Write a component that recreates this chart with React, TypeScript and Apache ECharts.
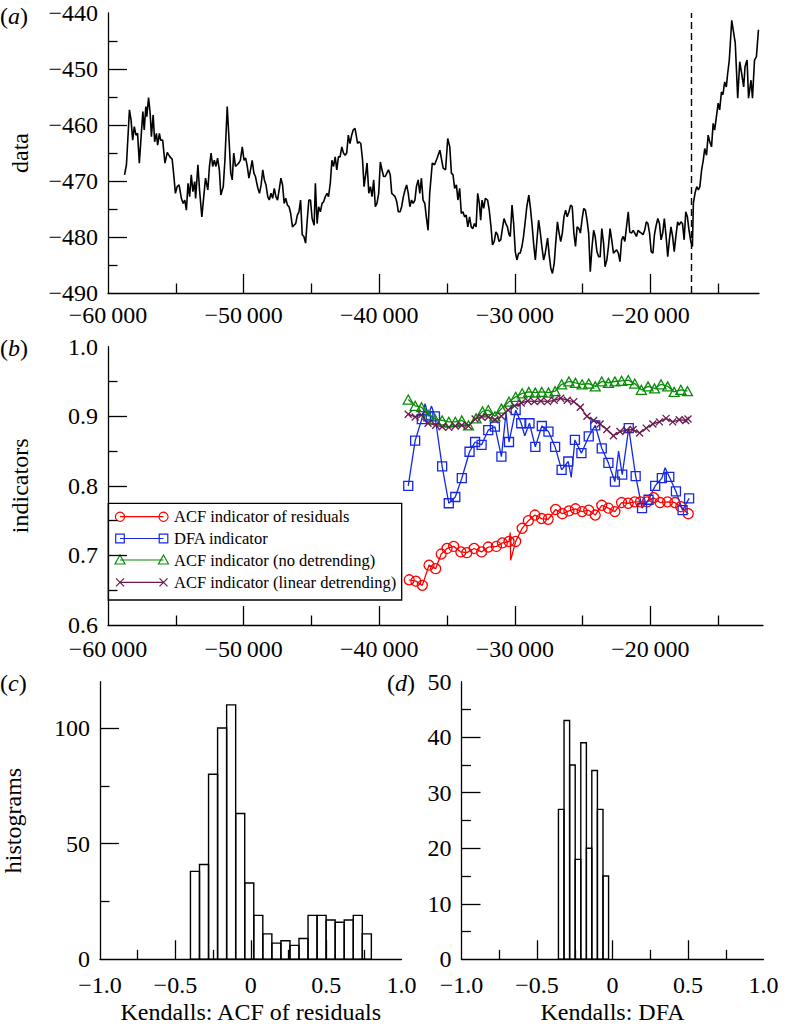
import React, { useEffect, useRef } from "react";
import * as echarts from "echarts";

const FONT = "'Liberation Serif', 'Times New Roman', Times, serif";

// ---------- Panel (a): data ----------
const dataSeries: [number, number][] = [
  [-58780,-468.9],[-58640,-467.1],[-58420,-457.3],[-58300,-459.1],[-58180,-462.7],[-58060,-460.3],[-57940,-461.8],[-57820,-461.5],[-57690,-466.8],[-57550,-461.8],
  [-57430,-457.6],[-57330,-460.9],[-57210,-456.7],[-57140,-458.5],[-57010,-455.1],[-56890,-457.9],[-56800,-462.1],[-56670,-458.2],[-56560,-463.0],[-56430,-461.5],
  [-56340,-463.6],[-56210,-461.5],[-56120,-462.7],[-55970,-462.7],[-55800,-466.8],[-55630,-464.9],[-55430,-465.7],[-55270,-466.1],[-55140,-469.2],[-55030,-472.2],
  [-54900,-471.0],[-54760,-470.7],[-54590,-473.1],[-54460,-474.0],[-54340,-473.4],[-54220,-475.2],[-54100,-470.4],[-53980,-472.8],[-53860,-468.9],[-53740,-471.9],
  [-53610,-470.1],[-53540,-473.1],[-53370,-467.1],[-53250,-471.6],[-53080,-476.4],[-52940,-472.8],[-52810,-469.5],[-52640,-471.6],[-52520,-467.4],[-52400,-465.0],
  [-52280,-467.4],[-52160,-466.3],[-52040,-467.4],[-51920,-465.9],[-51790,-468.0],[-51680,-472.5],[-51500,-471.0],[-51380,-466.3],[-51210,-456.7],[-51060,-463.3],
  [-50950,-468.6],[-50840,-469.8],[-50730,-465.0],[-50600,-467.4],[-50480,-467.1],[-50360,-466.8],[-50240,-466.3],[-50100,-463.9],[-49970,-466.3],[-49850,-465.9],
  [-49730,-467.4],[-49610,-469.5],[-49490,-468.0],[-49370,-466.3],[-49240,-468.6],[-49130,-469.2],[-48950,-471.3],[-48830,-472.2],[-48710,-470.7],[-48590,-468.0],
  [-48470,-469.8],[-48350,-470.7],[-48220,-472.8],[-48110,-473.4],[-47980,-472.2],[-47860,-473.1],[-47740,-471.3],[-47620,-472.8],[-47500,-473.4],[-47380,-471.6],
  [-47250,-469.5],[-47130,-470.7],[-47010,-474.0],[-46890,-473.1],[-46770,-474.3],[-46650,-474.6],[-46530,-475.8],[-46400,-478.2],[-46290,-477.9],[-46160,-477.6],
  [-46040,-476.1],[-45920,-475.5],[-45800,-473.4],[-45680,-479.6],[-45560,-479.9],[-45430,-481.1],[-45310,-477.0],[-45190,-473.4],[-45070,-473.4],[-44950,-476.7],
  [-44800,-477.9],[-44710,-470.4],[-44580,-477.6],[-44470,-474.6],[-44340,-475.5],[-44220,-474.0],[-44100,-473.7],[-43980,-472.8],[-43850,-472.2],[-43740,-472.8],
  [-43610,-470.4],[-43490,-466.3],[-43370,-467.4],[-43250,-465.7],[-43130,-468.0],[-43010,-465.7],[-42890,-465.7],[-42760,-463.9],[-42640,-465.0],[-42520,-465.4],
  [-42400,-465.0],[-42280,-461.8],[-42160,-463.3],[-42030,-461.8],[-41920,-460.9],[-41790,-460.6],[-41720,-461.5],[-41600,-463.3],[-41480,-463.0],[-41360,-463.3],
  [-41230,-466.3],[-41120,-471.0],[-40990,-468.6],[-40900,-466.8],[-40770,-472.2],[-40650,-471.0],[-40530,-472.8],[-40410,-469.8],[-40290,-474.6],[-40170,-474.0],
  [-40040,-472.2],[-39920,-466.6],[-39800,-468.0],[-39680,-469.2],[-39560,-469.2],[-39440,-468.6],[-39320,-468.0],[-39190,-468.9],[-39080,-472.2],[-38950,-472.5],
  [-38830,-472.8],[-38710,-473.7],[-38590,-475.5],[-38460,-475.5],[-38350,-474.6],[-38220,-472.8],[-38100,-471.6],[-37980,-470.7],[-37860,-472.2],[-37740,-474.6],
  [-37620,-473.4],[-37500,-474.0],[-37370,-473.4],[-37260,-471.0],[-37130,-469.8],[-37010,-472.2],[-36890,-469.5],[-36770,-473.4],[-36640,-474.0],[-36530,-476.4],
  [-36400,-478.8],[-36280,-472.2],[-36090,-466.8],[-35920,-467.1],[-35730,-465.9],[-35530,-464.5],[-35290,-467.7],[-35110,-468.0],[-34950,-462.4],[-34800,-463.9],
  [-34680,-468.6],[-34560,-468.9],[-34440,-471.3],[-34310,-470.7],[-34200,-473.4],[-34070,-471.3],[-33950,-475.8],[-33830,-475.5],[-33710,-476.4],[-33590,-476.1],
  [-33470,-478.2],[-33340,-476.4],[-33220,-478.2],[-33100,-478.5],[-32980,-477.6],[-32860,-478.2],[-32740,-472.2],[-32620,-474.0],[-32520,-477.0],[-32420,-473.4],
  [-32300,-474.9],[-32180,-473.1],[-32010,-473.4],[-31890,-475.2],[-31760,-478.2],[-31650,-481.4],[-31520,-480.8],[-31400,-479.1],[-31280,-479.6],[-31160,-480.8],
  [-31040,-480.5],[-30920,-478.5],[-30800,-476.7],[-30670,-477.6],[-30550,-478.2],[-30430,-479.6],[-30340,-479.9],[-30210,-474.3],[-30090,-477.6],[-29970,-482.6],
  [-29850,-484.1],[-29720,-482.9],[-29610,-482.9],[-29480,-481.7],[-29360,-479.9],[-29240,-477.3],[-29120,-474.6],[-28970,-472.5],[-28850,-474.9],[-28730,-477.9],
  [-28610,-481.4],[-28490,-484.1],[-28370,-480.5],[-28250,-477.0],[-28120,-479.3],[-28010,-481.7],[-27880,-484.1],[-27760,-482.9],[-27590,-480.2],[-27470,-483.2],
  [-27350,-485.6],[-27230,-486.5],[-27100,-484.7],[-26990,-481.1],[-26860,-477.3],[-26740,-479.3],[-26620,-480.8],[-26500,-479.3],[-26380,-476.4],[-26260,-475.2],
  [-26140,-476.4],[-26010,-475.5],[-25890,-474.3],[-25770,-474.6],[-25650,-479.3],[-25530,-481.7],[-25410,-478.2],[-25280,-478.5],[-25170,-479.3],[-25040,-476.7],
  [-24920,-474.9],[-24800,-475.2],[-24680,-477.0],[-24560,-479.3],[-24440,-486.2],[-24310,-481.7],[-24190,-478.8],[-24080,-479.9],[-23950,-482.6],[-23830,-483.5],
  [-23710,-483.5],[-23590,-478.5],[-23460,-481.1],[-23350,-485.3],[-23220,-484.1],[-23100,-481.7],[-22980,-478.5],[-22860,-480.5],[-22730,-482.9],[-22620,-482.6],
  [-22500,-482.3],[-22370,-482.9],[-22250,-484.4],[-22130,-480.5],[-22010,-479.9],[-21890,-480.8],[-21770,-478.2],[-21640,-475.5],[-21530,-479.1],[-21400,-479.3],
  [-21280,-478.8],[-21160,-479.3],[-21040,-479.9],[-20910,-478.8],[-20800,-479.1],[-20670,-479.3],[-20550,-479.6],[-20430,-478.8],[-20310,-477.3],[-20190,-477.6],
  [-20070,-479.3],[-19950,-482.6],[-19820,-482.9],[-19710,-479.6],[-19580,-477.9],[-19460,-476.7],[-19340,-477.6],[-19220,-480.5],[-19100,-479.3],[-18980,-476.7],
  [-18850,-479.9],[-18730,-483.5],[-18610,-480.5],[-18490,-478.2],[-18370,-479.9],[-18250,-482.6],[-18130,-479.9],[-18000,-477.3],[-17890,-477.9],[-17760,-477.3],
  [-17640,-477.6],[-17520,-480.5],[-17400,-475.5],[-17280,-476.4],[-17160,-478.8],[-17030,-480.8],[-16910,-481.7],[-16840,-474.0],[-16720,-472.2],[-16590,-471.0],
  [-16470,-471.6],[-16360,-471.0],[-16230,-468.0],[-16110,-466.3],[-16000,-464.2],[-15870,-465.4],[-15750,-461.8],[-15630,-463.0],[-15500,-463.9],[-15380,-459.7],
  [-15270,-460.9],[-15140,-458.5],[-15010,-456.1],[-14900,-457.3],[-14770,-454.1],[-14660,-454.6],[-14530,-452.3],[-14410,-453.2],[-14310,-450.8],[-14190,-448.4],
  [-14010,-441.3],[-13750,-445.4],[-13570,-455.2],[-13420,-448.7],[-13280,-450.8],[-13130,-453.2],[-13030,-449.6],[-12880,-448.4],[-12770,-455.2],[-12590,-452.0],
  [-12480,-455.2],[-12330,-448.4],[-12190,-447.8],[-12040,-443.0],
];
const regimeShiftYear = -17000;

// ---------- Panel (b): indicators ----------
const acfResiduals: [number, number][] = [
  [-37790,0.665],[-37300,0.663],[-36820,0.657],[-36330,0.686],[-35840,0.681],[-35430,0.702],[-35000,0.710],[-34510,0.713],[-33980,0.705],[-33540,0.704],
  [-33000,0.710],[-32450,0.705],[-31960,0.712],[-31360,0.713],[-30920,0.718],[-30430,0.720],[-30340,0.733],[-30310,0.693],[-29940,0.720],[-29460,0.739],
  [-29000,0.750],[-28520,0.758],[-28030,0.753],[-27540,0.752],[-26990,0.766],[-26500,0.760],[-26010,0.764],[-25530,0.767],[-25040,0.763],[-24550,0.765],
  [-24070,0.758],[-23590,0.772],[-23100,0.768],[-22620,0.763],[-22130,0.776],[-21640,0.775],[-21160,0.777],[-20740,0.777],[-20240,0.777],[-19760,0.783],
  [-19290,0.776],[-18740,0.777],[-18200,0.776],[-17760,0.770],[-17210,0.760],
];
const acfResidualsLineOnly = [-30340, -30310];

const dfaIndicator: [number, number][] = [
  [-37860,0.800],[-37350,0.865],[-36860,0.896],[-36620,0.918],[-36380,0.900],[-36150,0.915],[-35890,0.900],[-35360,0.828],[-34870,0.775],[-34390,0.784],
  [-33910,0.811],[-33340,0.849],[-32930,0.863],[-32450,0.859],[-31960,0.880],[-31470,0.885],[-30990,0.842],[-30650,0.905],[-30430,0.863],[-29940,0.909],
  [-29530,0.890],[-29270,0.872],[-28920,0.890],[-28490,0.856],[-28010,0.886],[-27520,0.878],[-27030,0.856],[-26550,0.823],[-26060,0.835],[-25840,0.812],
  [-25570,0.866],[-25090,0.847],[-24550,0.871],[-24070,0.887],[-23590,0.854],[-23100,0.833],[-22620,0.806],[-22350,0.850],[-22080,0.816],[-21600,0.883],
  [-21090,0.814],[-20620,0.768],[-20140,0.780],[-19650,0.800],[-19160,0.811],[-18920,0.826],[-18610,0.813],[-18120,0.792],[-17630,0.765],[-17150,0.782],
];
const dfaLineOnly = [-36620, -36150, -30650, -29270, -25840, -22350, -18920];

const acfNoDetrending: [number, number][] = [
  [-37860,0.924],[-37350,0.915],[-36880,0.913],[-36400,0.902],[-35890,0.896],[-35360,0.894],[-34870,0.892],[-34390,0.892],[-33910,0.894],[-33420,0.887],
  [-32860,0.897],[-32380,0.907],[-31960,0.909],[-31470,0.900],[-30990,0.911],[-30430,0.921],[-29940,0.928],[-29460,0.933],[-28970,0.935],[-28490,0.934],
  [-28010,0.935],[-27520,0.934],[-27030,0.936],[-26550,0.946],[-26010,0.950],[-25530,0.948],[-25040,0.946],[-24550,0.947],[-24070,0.943],[-23590,0.950],
  [-23100,0.948],[-22620,0.950],[-22130,0.951],[-21640,0.952],[-21160,0.947],[-20670,0.938],[-20180,0.943],[-19700,0.940],[-19220,0.946],[-18730,0.943],
  [-18250,0.935],[-17760,0.938],[-17270,0.936],
];

const acfLinearDetrending: [number, number][] = [
  [-37860,0.903],[-37350,0.899],[-36880,0.902],[-36400,0.890],[-35840,0.887],[-35360,0.885],[-34870,0.884],[-34390,0.886],[-33910,0.887],[-33420,0.886],
  [-32930,0.896],[-32450,0.899],[-31960,0.899],[-31470,0.895],[-30990,0.900],[-30500,0.909],[-30020,0.915],[-29530,0.919],[-29050,0.922],[-28560,0.921],
  [-28080,0.922],[-27590,0.921],[-27100,0.923],[-26620,0.926],[-26130,0.923],[-25650,0.921],[-25170,0.913],[-24680,0.900],[-24190,0.894],[-23710,0.889],
  [-23220,0.881],[-22730,0.872],[-22250,0.878],[-21760,0.880],[-21280,0.881],[-20800,0.876],[-20310,0.883],[-19820,0.889],[-19340,0.892],[-18850,0.897],
  [-18360,0.892],[-17880,0.895],[-17400,0.894],[-17230,0.896],
];

// ---------- Panels (c), (d): histograms ----------
const histAcfEdges = [-0.40,-0.34,-0.28,-0.22,-0.16,-0.10,-0.04,0.02,0.08,0.14,0.20,0.26,0.32,0.38,0.44,0.50,0.56,0.62,0.68,0.74,0.80];
const histAcfCounts = [38,41,80,100,110,63,33,19,11,7,8,6,9,19,19,17,16,17,19,11];
const histDfaEdges = [-0.358,-0.321,-0.284,-0.247,-0.210,-0.173,-0.137,-0.100,-0.063,-0.026];
const histDfaCounts = [27,43,35,18,39,20,34,27,15];

// ---------- Tick values ----------
const timeLabels = [-60000,-50000,-40000,-30000,-20000];
const timeMajorTicks = [-50000,-40000,-30000,-20000];
const timeMinorTicks = [-55000,-45000,-35000,-25000,-15000];
const dataLabels = [-490,-480,-470,-460,-450,-440];
const dataMajorTicks = [-480,-470,-460,-450];
const dataMinorTicks = [-485,-475,-465,-455,-445];
const indLabels = [0.6,0.7,0.8,0.9,1.0];
const indMajorTicks = [0.7,0.8,0.9];
const indMinorTicks = [0.65,0.75,0.85,0.95];
const kendLabels = [-1,-0.5,0,0.5,1];
const kendMajorTicks = [-0.5,0,0.5];
const kendMinorTicks = [-0.75,-0.25,0.25,0.75];
const histCLabels = [0,50,100];
const histCMajorTicks = [50,100];
const histCMinorTicks = [25,75];
const histDLabels = [0,10,20,30,40,50];
const histDMajorTicks = [10,20,30,40];
const histDMinorTicks = [5,15,25,35,45];

const RED = "#ff0000";
const BLUE = "#1428e6";
const GREEN = "#0a8c0a";
const PURPLE = "#6a1b4d";
const MINUS = "\u2212";

const fmtTime = (v: number) => {
  const s = String(Math.abs(v));
  const g = s.length > 4 ? s.slice(0, -3) + "\u2009" + s.slice(-3) : s;
  return (v < 0 ? MINUS : "") + g;
};
const fmtInt = (v: number) => (v < 0 ? MINUS : "") + String(Math.abs(Math.round(v)));
const fmt1 = (v: number) => (Math.abs(v) < 1e-9 ? "0" : (v < 0 ? MINUS : "") + Math.abs(v).toFixed(1));

const tickLine = { color: "#000", width: 1.3 };

function mainAxis(kind: "x" | "y", gridIndex: number, min: number, max: number, labels: number[], ticks: number[], fmt: (v: number) => string, margin: number, extra: any = {}) {
  return {
    type: "value",
    gridIndex,
    position: kind === "x" ? "bottom" : "left",
    min,
    max,
    axisLine: { show: true, onZero: false, lineStyle: tickLine },
    axisTick: { show: true, inside: true, length: 19, customValues: ticks, lineStyle: tickLine },
    axisLabel: { show: true, customValues: labels, formatter: fmt, margin, color: "#000", fontSize: 24, fontFamily: FONT },
    splitLine: { show: false },
    nameTextStyle: { color: "#000", fontSize: 24, fontFamily: FONT },
    ...extra,
  };
}
function minorAxis(kind: "x" | "y", gridIndex: number, min: number, max: number, ticks: number[]) {
  return {
    type: "value",
    gridIndex,
    position: kind === "x" ? "bottom" : "left",
    min,
    max,
    axisLine: { show: false, onZero: false },
    axisTick: { show: true, inside: true, length: 9.5, customValues: ticks, lineStyle: tickLine },
    axisLabel: { show: false },
    splitLine: { show: false },
  };
}

const histRender = (params: any, api: any) => {
  const a = api.coord([api.value(0), api.value(2)]);
  const b = api.coord([api.value(1), 0]);
  return {
    type: "rect",
    shape: { x: a[0], y: a[1], width: b[0] - a[0], height: b[1] - a[1] },
    style: { fill: "none", stroke: "#000", lineWidth: 1.4 },
  };
};

function indicatorSeries(name: string, pts: [number, number][], lineOnly: number[], color: string, symbol: string, size: number | number[]) {
  return {
    type: "line",
    name,
    xAxisIndex: 2,
    yAxisIndex: 2,
    data: pts.map((p) => (lineOnly.includes(p[0]) ? { value: p, symbol: "none" } : p)),
    symbol,
    symbolSize: size,
    showSymbol: true,
    lineStyle: { color, width: 1.3 },
    itemStyle: { color: "rgba(0,0,0,0)", borderColor: color, borderWidth: 1.3 },
    emphasis: { disabled: true },
    silent: true,
  };
}

const CROSS = "path://M0,0L10,10M10,0L0,10";

function legendGraphic() {
  const x1 = 120, x2 = 163.5, tx = 174;
  const entries = [
    { text: "ACF indicator of residuals", color: RED, m: "circle", y: 516.7 },
    { text: "DFA indicator", color: BLUE, m: "rect", y: 538.5 },
    { text: "ACF indicator (no detrending)", color: GREEN, m: "tri", y: 560 },
    { text: "ACF indicator (linear detrending)", color: PURPLE, m: "cross", y: 582.3 },
  ];
  const children: any[] = [
    { type: "rect", shape: { x: 108.3, y: 503.3, width: 293.4, height: 96.7 }, style: { fill: "#fff", stroke: "#000", lineWidth: 1.3 } },
  ];
  const marker = (m: string, cx: number, cy: number, color: string) => {
    const st = { fill: "none", stroke: color, lineWidth: 1.2 };
    if (m === "circle") return [{ type: "circle", shape: { cx, cy, r: 4.6 }, style: st }];
    if (m === "rect") return [{ type: "rect", shape: { x: cx - 4.3, y: cy - 4.3, width: 8.6, height: 8.6 }, style: st }];
    if (m === "tri") return [{ type: "polygon", shape: { points: [[cx, cy - 5], [cx + 5, cy + 4], [cx - 5, cy + 4]] }, style: st }];
    return [
      { type: "line", shape: { x1: cx - 4, y1: cy - 4, x2: cx + 4, y2: cy + 4 }, style: { stroke: color, lineWidth: 1.2 } },
      { type: "line", shape: { x1: cx - 4, y1: cy + 4, x2: cx + 4, y2: cy - 4 }, style: { stroke: color, lineWidth: 1.2 } },
    ];
  };
  for (const e of entries) {
    children.push({ type: "line", shape: { x1, y1: e.y, x2, y2: e.y }, style: { stroke: e.color, lineWidth: 1.2 } });
    children.push(...marker(e.m, x1, e.y, e.color), ...marker(e.m, x2, e.y, e.color));
    children.push({ type: "text", x: tx, y: e.y, style: { text: e.text, fontSize: 16.5, fontFamily: FONT, fill: "#000", verticalAlign: "middle", textAlign: "left" } });
  }
  return { type: "group", z: 100, children };
}

function panelLabel(letter: string, x: number, y: number) {
  return {
    type: "text",
    x,
    y,
    z: 100,
    style: {
      text: "(" + "{i|" + letter + "}" + ")",
      fontSize: 24,
      fontFamily: FONT,
      fill: "#000",
      verticalAlign: "middle",
      textAlign: "left",
      rich: { i: { fontStyle: "italic", fontSize: 24, fontFamily: FONT, fill: "#000" } },
    },
  };
}

export default function App() {
  const ref = useRef<HTMLDivElement>(null);
  useEffect(() => {
    if (!ref.current) return;
    const chart = echarts.init(ref.current, undefined, { renderer: "svg" });
    const TMIN = -60000;
    const option: any = {
      animation: false,
      backgroundColor: "#fff",
      textStyle: { fontFamily: FONT, color: "#000" },
      grid: [
        { left: 100, top: 13, width: 659, height: 280 },
        { left: 100, top: 346.7, width: 663, height: 278.3 },
        { left: 100, top: 681.7, width: 301.5, height: 277.6 },
        { left: 461.5, top: 681.7, width: 302, height: 277.6 },
      ],
      xAxis: [
        mainAxis("x", 0, TMIN, -12000, timeLabels, timeMajorTicks, fmtTime, 10),
        minorAxis("x", 0, TMIN, -12000, timeMinorTicks),
        mainAxis("x", 1, TMIN, -11700, timeLabels, timeMajorTicks, fmtTime, 12),
        minorAxis("x", 1, TMIN, -11700, timeMinorTicks),
        mainAxis("x", 2, -1, 1, kendLabels, kendMajorTicks, fmt1, 14, { name: "Kendalls: ACF of residuals", nameLocation: "middle", nameGap: 41 }),
        minorAxis("x", 2, -1, 1, kendMinorTicks),
        mainAxis("x", 3, -1, 1, kendLabels, kendMajorTicks, fmt1, 14, { name: "Kendalls: DFA", nameLocation: "middle", nameGap: 41 }),
        minorAxis("x", 3, -1, 1, kendMinorTicks),
      ],
      yAxis: [
        mainAxis("y", 0, -490, -440, dataLabels, dataMajorTicks, fmtInt, 10, { name: "data", nameLocation: "middle", nameGap: 76, nameRotate: 90 }),
        minorAxis("y", 0, -490, -440, dataMinorTicks),
        mainAxis("y", 1, 0.6, 1.0, indLabels, indMajorTicks, fmt1, 10, { name: "indicators", nameLocation: "middle", nameGap: 76, nameRotate: 90 }),
        minorAxis("y", 1, 0.6, 1.0, indMinorTicks),
        mainAxis("y", 2, 0, 120, histCLabels, histCMajorTicks, fmtInt, 10, { name: "histograms", nameLocation: "middle", nameGap: 75, nameRotate: 90 }),
        minorAxis("y", 2, 0, 120, histCMinorTicks),
        mainAxis("y", 3, 0, 50, histDLabels, histDMajorTicks, fmtInt, 10),
        minorAxis("y", 3, 0, 50, histDMinorTicks),
      ],
      series: [
        {
          type: "line",
          name: "data",
          xAxisIndex: 0,
          yAxisIndex: 0,
          data: dataSeries,
          showSymbol: false,
          symbol: "none",
          lineStyle: { color: "#000", width: 1.6 },
          silent: true,
          markLine: {
            silent: true,
            symbol: ["none", "none"],
            label: { show: false },
            lineStyle: { color: "#000", width: 1.4, type: [7, 4] },
            data: [{ xAxis: regimeShiftYear }],
          },
        },
        indicatorSeries("ACF indicator of residuals", acfResiduals, acfResidualsLineOnly, RED, "circle", 10),
        indicatorSeries("DFA indicator", dfaIndicator, dfaLineOnly, BLUE, "rect", 9),
        indicatorSeries("ACF indicator (no detrending)", acfNoDetrending, [], GREEN, "triangle", [10, 9]),
        indicatorSeries("ACF indicator (linear detrending)", acfLinearDetrending, [], PURPLE, CROSS, 7),
        {
          type: "custom",
          name: "Kendalls: ACF of residuals",
          xAxisIndex: 4,
          yAxisIndex: 4,
          data: histAcfCounts.map((c, i) => [histAcfEdges[i], histAcfEdges[i + 1], c]),
          encode: { x: [0, 1], y: 2 },
          renderItem: histRender,
          silent: true,
        },
        {
          type: "custom",
          name: "Kendalls: DFA",
          xAxisIndex: 6,
          yAxisIndex: 6,
          data: histDfaCounts.map((c, i) => [histDfaEdges[i], histDfaEdges[i + 1], c]),
          encode: { x: [0, 1], y: 2 },
          renderItem: histRender,
          silent: true,
        },
      ],
      graphic: [
        legendGraphic(),
        panelLabel("a", 0, 16),
        panelLabel("b", 0, 348),
        panelLabel("c", 0, 683),
        panelLabel("d", 387, 683),
      ],
    };
    chart.setOption(option);
    return () => chart.dispose();
  }, []);
  return <div ref={ref} style={{ position: "absolute", left: 0, top: 0, width: 785, height: 1026, background: "#fff" }} />;
}
